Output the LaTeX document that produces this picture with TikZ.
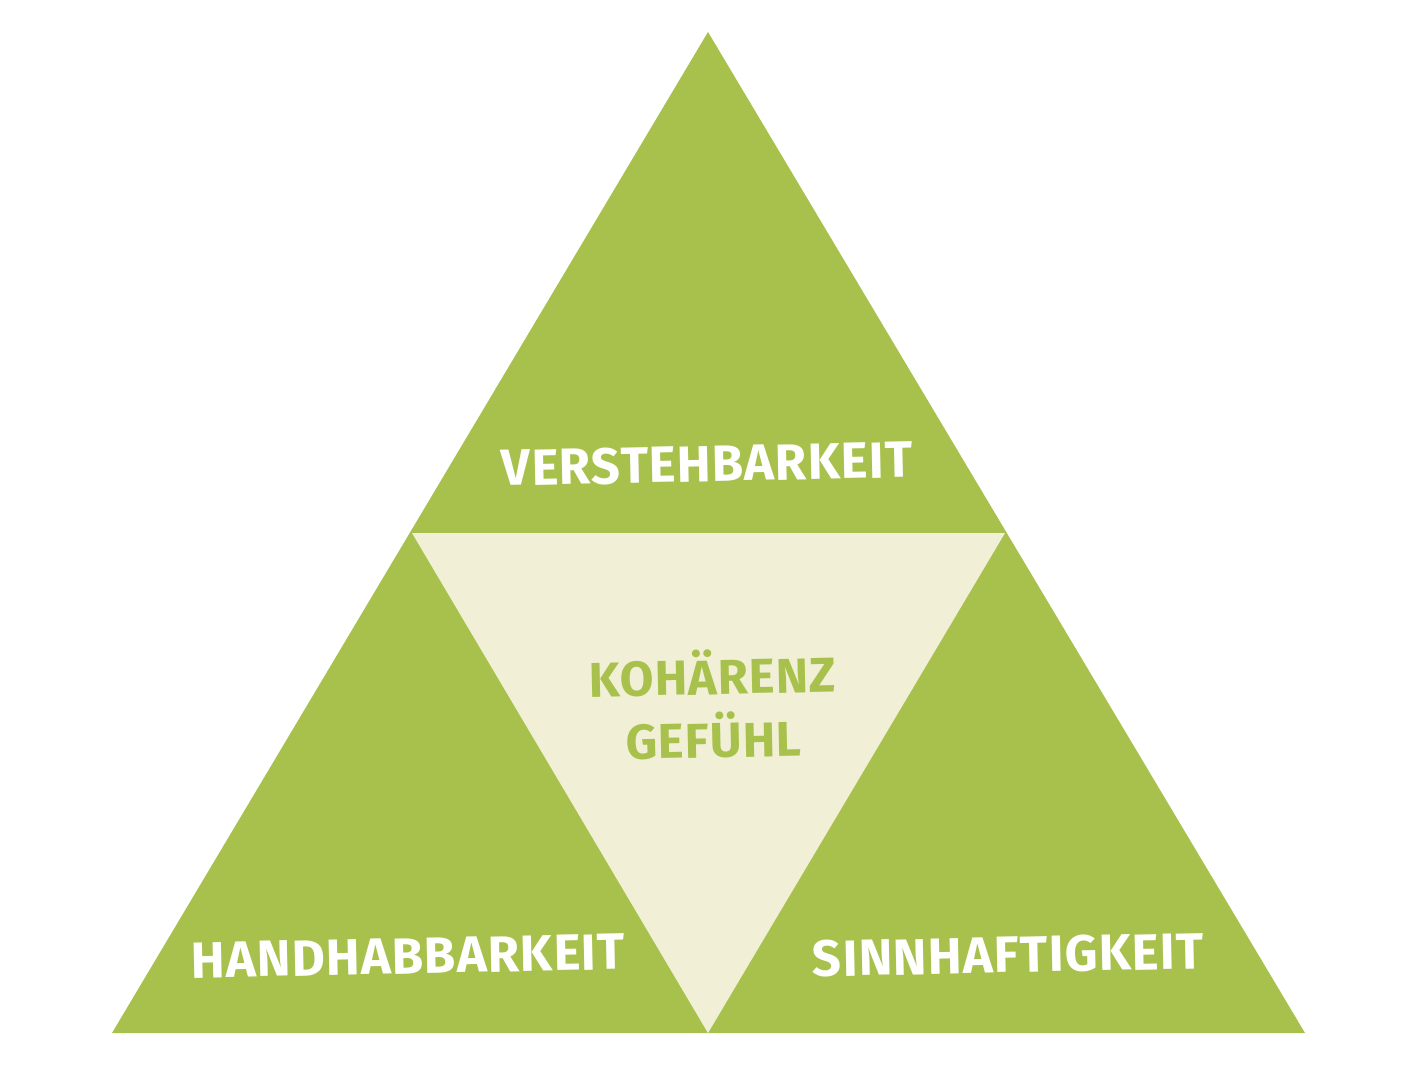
\documentclass[tikz,border=0pt]{standalone}
\usepackage{fontspec}
\setmainfont{Fira Sans}[LetterSpace=2]
\definecolor{leafgreen}{HTML}{A8C14C}
\definecolor{paleleaf}{HTML}{F1F0D6}
\tikzset{
  pillar/.style={font=\fontsize{51}{51}\selectfont\bfseries, text=white, rotate=1.2, inner sep=0pt},
  corelabel/.style={font=\fontsize{49}{63}\selectfont\bfseries, text=leafgreen, rotate=1.2, align=center, inner sep=0pt}
}
\begin{document}
\begin{tikzpicture}[x=1pt,y=-1pt]
\useasboundingbox (0,0) rectangle (1411,1090);
\fill [white] (0,0) rectangle (1411,1090);

\coordinate (top) at (708,32);
\coordinate (left) at (112,1033);
\coordinate (right) at (1305,1033);
\coordinate (midleft) at (412,533);
\coordinate (midright) at (1005,533);
\coordinate (midbottom) at (708,1033);

\fill [leafgreen] (top) -- (right) -- (left) -- cycle;
\fill [paleleaf] (midleft) -- (midright) -- (midbottom) -- cycle;

\node [pillar] (verstehen) at (707,464) {VERSTEHBARKEIT};
\node [pillar] (handhaben) at (408,956) {HANDHABBARKEIT};
\node [pillar] (sinn) at (1008,955) {SINNHAFTIGKEIT};
\node [corelabel] (kohaerenz) at (713,704) {KOHÄRENZ\\GEFÜHL};
\end{tikzpicture}
\end{document}
